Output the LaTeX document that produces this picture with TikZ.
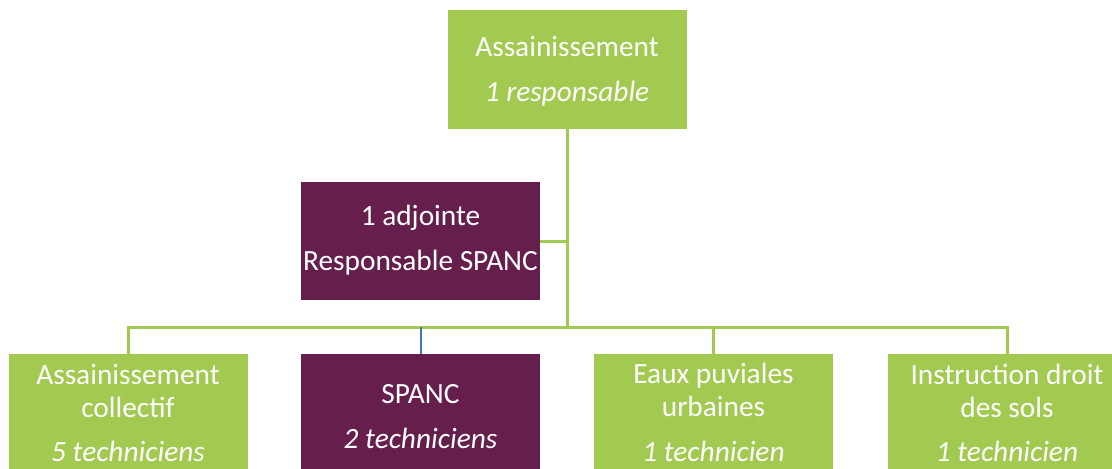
\documentclass[tikz,border=0pt]{standalone}
\usepackage{fontspec}
\setmainfont{Carlito}
\newlength\pxu
\setlength\pxu{0.75pt}
\definecolor{leaf}{HTML}{A2CA50}
\definecolor{plum}{HTML}{661F4C}
\definecolor{linkblue}{HTML}{4472C4}
\tikzset{
  unit/.style={draw=none, inner sep=0pt, outer sep=0pt, text=white, align=center,
    minimum width=239\pxu,
    font=\fontsize{22pt}{24.75pt}\selectfont},
  greenbox/.style={unit, fill=leaf},
  plumbox/.style={unit, fill=plum},
  link/.style={draw=leaf, line width=3\pxu},
  bluelink/.style={draw=linkblue, line width=2\pxu},
}
\begin{document}
\begin{tikzpicture}[x=0.75pt, y=-0.75pt]
\clip (0,0) rectangle (1112,468);
\fill[white] (0,0) rectangle (1112,468);

% head of service (text height measured to the last baseline)
\node[greenbox, minimum height=119\pxu, text height=91\pxu, text depth=28\pxu]
  (head) at (567,69.5) {Assainissement\\[12\pxu]\itshape 1 responsable};

% deputy
\node[plumbox, minimum height=118\pxu, text height=88\pxu, text depth=30\pxu]
  (deputy) at (420.5,241) {1 adjointe\\[12\pxu]Responsable SPANC};

% teams
\node[greenbox, minimum height=132\pxu, text height=107\pxu, text depth=25\pxu]
  (coll) at (128,420) {Assainissement\\collectif\\[11\pxu]\itshape 5 techniciens};
\node[plumbox, minimum height=132\pxu, text height=94\pxu, text depth=38\pxu]
  (spanc) at (420.5,420) {SPANC\\[12\pxu]\itshape 2 techniciens};
\node[greenbox, minimum height=132\pxu, text height=107\pxu, text depth=25\pxu]
  (pluv) at (713.5,420) {Eaux puviales\\urbaines\\[12\pxu]\itshape 1 technicien};
\node[greenbox, minimum height=132\pxu, text height=107\pxu, text depth=25\pxu]
  (sols) at (1007,420) {Instruction droit\\des sols\\[11\pxu]\itshape 1 technicien};

% connectors
\coordinate (bus) at (567,327);
\draw[link] (head.south) -- (bus);
\draw[link] (deputy.east) -- (deputy.east -| bus);
\draw[link] (coll.north) -- (coll.north |- bus) -- (sols.north |- bus) -- (sols.north);
\draw[link] (pluv.north |- bus) -- (pluv.north);
\draw[bluelink] (spanc.north |- bus) -- (spanc.north);
\end{tikzpicture}
\end{document}
